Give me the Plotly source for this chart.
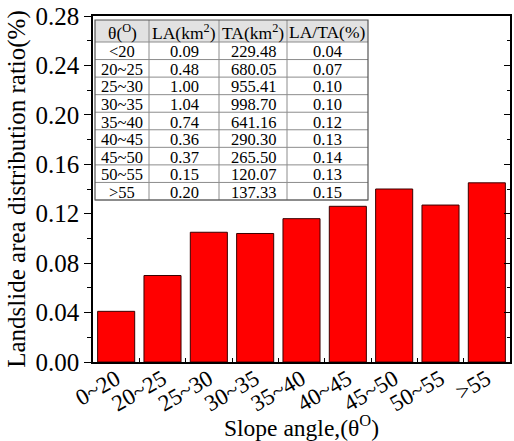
import plotly.graph_objects as go

categories = ["0~20", "20~25", "25~30", "30~35", "35~40", "40~45", "45~50", "50~55", ">55"]
ratio = [0.041, 0.070, 0.105, 0.104, 0.116, 0.126, 0.140, 0.127, 0.145]

tbl_theta = ["<20", "20~25", "25~30", "30~35", "35~40", "40~45", "45~50", "50~55", ">55"]
tbl_la = ["0.09", "0.48", "1.00", "1.04", "0.74", "0.36", "0.37", "0.15", "0.20"]
tbl_ta = ["229.48", "680.05", "955.41", "998.70", "641.16", "290.30", "265.50", "120.07", "137.33"]
tbl_pct = ["0.04", "0.07", "0.10", "0.10", "0.12", "0.13", "0.14", "0.13", "0.15"]
tbl_header = ["θ(<sup>O</sup>)", "LA(km<sup>2</sup>)", "TA(km<sup>2</sup>)", "LA/TA(%)"]

FONT = "Times New Roman"

W, H = 514, 441
ML, MR, MT, MB = 93, 4, 16, 79
PW, PH = W - ML - MR, H - MT - MB


def px(x):
    return (x - ML) / PW


def py(y):
    return 1 - (y - MT) / PH


fig = go.Figure()
fig.add_trace(go.Bar(
    x=categories, y=ratio, width=0.8,
    marker=dict(color="#ff0000", line=dict(color="#3a0000", width=1)),
    showlegend=False,
))
fig.add_trace(go.Bar(
    x=categories, y=ratio, width=0.8, yaxis="y2", opacity=0,
    showlegend=False, hoverinfo="skip",
))

# inset table drawn with shapes + annotations (paper coords of plot area)
col_edges = [95, 149, 219, 287, 368]
tbl_top, head_bot, tbl_bot = 20, 42, 200
n_rows = len(tbl_theta)
row_h = (tbl_bot - head_bot) / n_rows
shapes = []
annots = []
shapes.append(dict(type="rect", xref="paper", yref="paper",
                   x0=px(col_edges[0]), x1=px(col_edges[-1]),
                   y0=py(head_bot), y1=py(tbl_top),
                   fillcolor="#e2e2e2", line=dict(width=0), layer="above"))
shapes.append(dict(type="rect", xref="paper", yref="paper",
                   x0=px(col_edges[0]), x1=px(col_edges[-1]),
                   y0=py(tbl_bot), y1=py(head_bot),
                   fillcolor="white", line=dict(width=0), layer="above"))
for i in range(n_rows + 1):
    yy = head_bot + i * row_h
    shapes.append(dict(type="line", xref="paper", yref="paper",
                       x0=px(col_edges[0]), x1=px(col_edges[-1]), y0=py(yy), y1=py(yy),
                       line=dict(color="#8c8c8c", width=1), layer="above"))
for c in col_edges[1:-1]:
    shapes.append(dict(type="line", xref="paper", yref="paper",
                       x0=px(c), x1=px(c), y0=py(tbl_bot), y1=py(tbl_top),
                       line=dict(color="#8c8c8c", width=1), layer="above"))
shapes.append(dict(type="rect", xref="paper", yref="paper",
                   x0=px(col_edges[0]), x1=px(col_edges[-1]),
                   y0=py(tbl_bot), y1=py(tbl_top),
                   line=dict(color="#555555", width=1.2), layer="above"))

columns = [tbl_theta, tbl_la, tbl_ta, tbl_pct]
for j, (hdr, col) in enumerate(zip(tbl_header, columns)):
    cx = px((col_edges[j] + col_edges[j + 1]) / 2)
    annots.append(dict(text=hdr, x=cx, y=py((tbl_top + head_bot) / 2 + 1), xref="paper", yref="paper",
                       showarrow=False, xanchor="center", yanchor="middle", borderpad=0,
                       font=dict(family=FONT, size=17.5, color="black")))
    for i, val in enumerate(col):
        cy = head_bot + (i + 0.5) * row_h + 1
        annots.append(dict(text=val, x=cx, y=py(cy), xref="paper", yref="paper",
                           showarrow=False, xanchor="center", yanchor="middle", borderpad=0,
                           font=dict(family=FONT, size=16.5, color="black")))

fig.update_layout(
    template="none",
    width=W, height=H,
    margin=dict(l=ML, r=MR, t=MT, b=MB),
    paper_bgcolor="white", plot_bgcolor="white",
    font=dict(family=FONT, size=20, color="black"),
    bargap=0.2,
    shapes=shapes,
    annotations=annots,
    xaxis=dict(
        type="category", range=[-0.5, 8.5],
        showline=True, linecolor="black", linewidth=1.5, mirror=True,
        ticks="inside", tickson="boundaries", ticklen=4, tickcolor="black",
        tickangle=-30, tickfont=dict(family=FONT, size=23, color="black"),
        ticklabelstandoff=-7,
        title=dict(text="Slope angle,(θ<sup>O</sup>)", font=dict(family=FONT, size=23.5, color="black"), standoff=0),
        showgrid=False, zeroline=False,
    ),
    yaxis=dict(
        range=[0, 0.28], tickvals=[0, 0.04, 0.08, 0.12, 0.16, 0.20, 0.24, 0.28],
        tickformat=".2f",
        showline=True, linecolor="black", linewidth=1.5, mirror=True,
        ticks="outside", ticklen=7, tickcolor="black",
        minor=dict(ticks="outside", ticklen=4, dtick=0.02, tickcolor="black"),
        tickfont=dict(family=FONT, size=25, color="black"),
        title=dict(text="Landslide area distribution ratio(%)", font=dict(family=FONT, size=25, color="black"), standoff=3),
        showgrid=False, zeroline=False,
    ),
    yaxis2=dict(
        overlaying="y", side="right", range=[0, 0.28],
        tickvals=[0, 0.04, 0.08, 0.12, 0.16, 0.20, 0.24, 0.28],
        ticks="inside", ticklen=6, tickcolor="black",
        minor=dict(ticks="inside", ticklen=3, dtick=0.02, tickcolor="black"),
        showticklabels=False, showgrid=False, zeroline=False, showline=False,
    ),
)

fig.write_html("out.html")
